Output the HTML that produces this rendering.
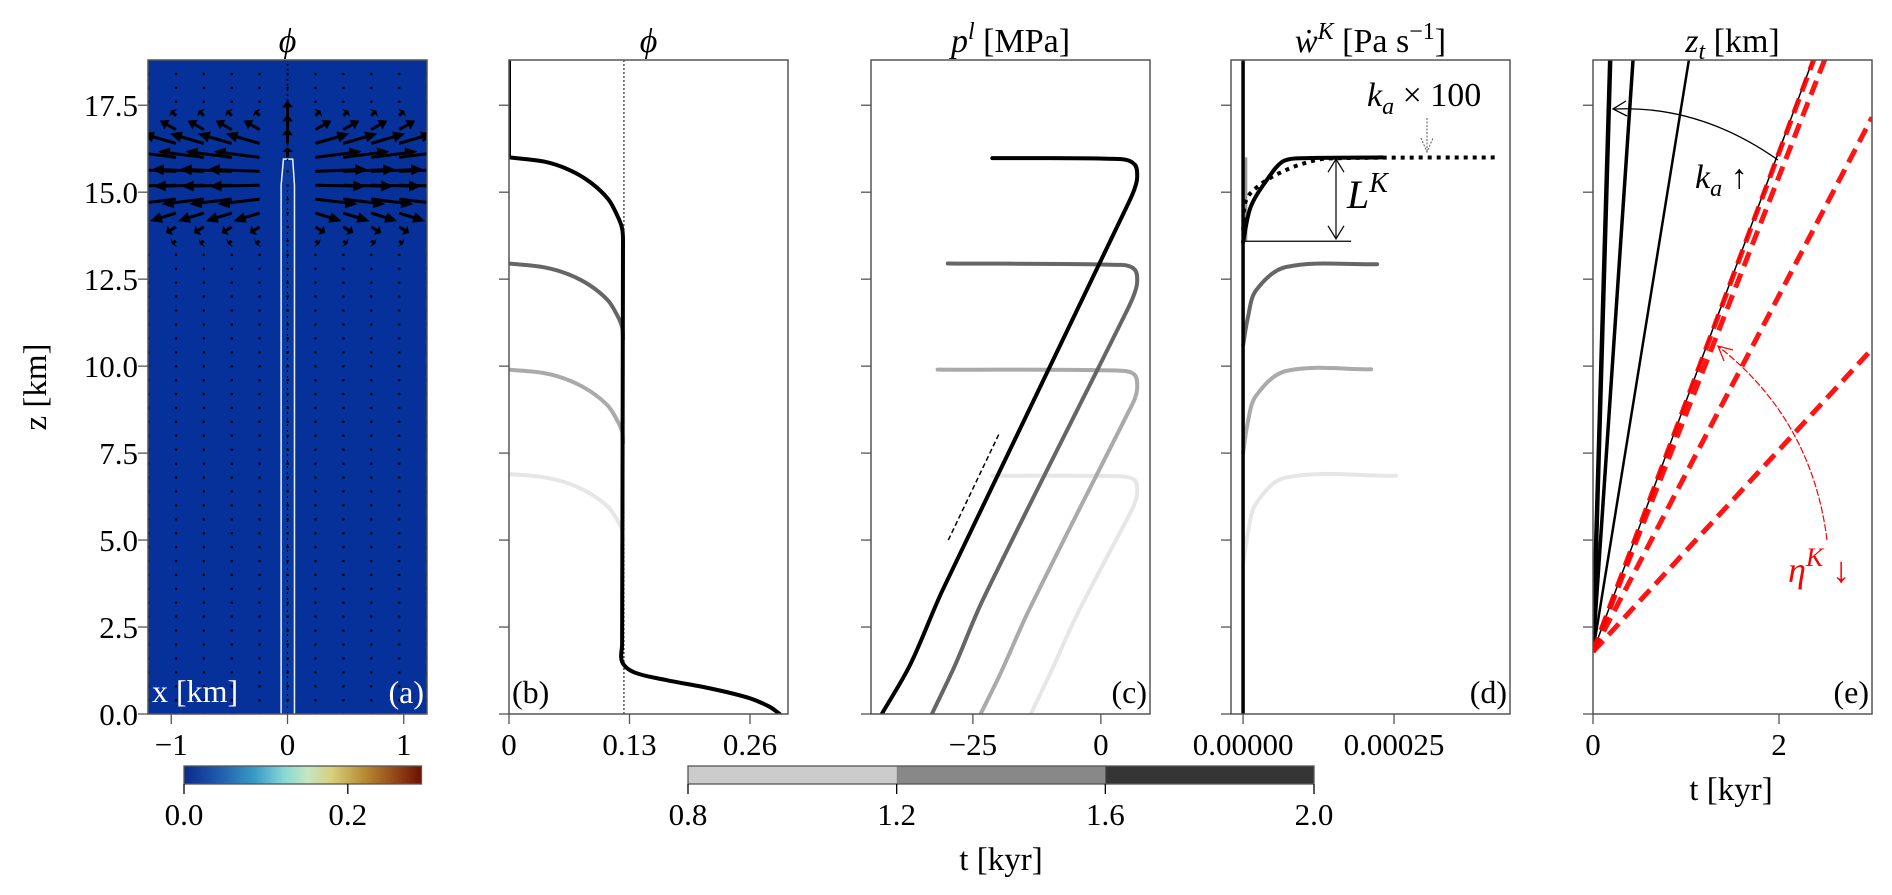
<!DOCTYPE html>
<html><head><meta charset="utf-8">
<style>
html,body{margin:0;padding:0;background:#fff;}
svg{display:block;font-family:"Liberation Serif",serif;}
</style></head>
<body>
<svg id="fig" width="1892" height="895" viewBox="0 0 1892 895" xmlns="http://www.w3.org/2000/svg">
<defs>
<linearGradient id="phicmap" x1="0" x2="1" y1="0" y2="0">
<stop offset="0" stop-color="#0b2a8c"/><stop offset="0.15" stop-color="#1f5cae"/>
<stop offset="0.3" stop-color="#3a9cc6"/><stop offset="0.42" stop-color="#86d8d6"/>
<stop offset="0.52" stop-color="#c4e6c0"/><stop offset="0.62" stop-color="#d8d07e"/>
<stop offset="0.76" stop-color="#b88a32"/><stop offset="0.9" stop-color="#904216"/>
<stop offset="1" stop-color="#6e1002"/></linearGradient>
<linearGradient id="crackgrad" x1="0" x2="0" y1="1" y2="0">
<stop offset="0" stop-color="#a05010"/><stop offset="0.04" stop-color="#d8c060"/>
<stop offset="0.1" stop-color="#7ad0d8"/><stop offset="1" stop-color="#4aa8d0"/></linearGradient>
</defs>
</svg>
<script>
// ---------- data ----------
const zTicks=[0,2.5,5,7.5,10,12.5,15,17.5];
const zTickLabels=['0.0','2.5','5.0','7.5','10.0','12.5','15.0','17.5'];
// panel (a) quiver
const quiverCols=[-1.2,-0.96,-0.72,-0.48,-0.24,0,0.24,0.48,0.72,0.96,1.2];
const arrowRowZ=[17.2,16.8,16.4,16.0,15.6,15.2,14.8,14.4,14.0,13.6];
const arrowRowU=[0.05,0.16,0.34,0.46,0.52,0.50,0.42,0.26,0.10,0.04];
const arrowRowV=[0.05,0.09,0.10,0.06,0.02,-0.01,-0.05,-0.08,-0.06,-0.03];
const arrowCenterV=[0.15,0.15,0.15,0.10,0,0,0,0,0,0];
// panel (b) porosity profiles
const phiBlackTop=[[0,18.8],[0,16]];
const phiBlack=[[0,16],[0.038,15.88],[0.065,15.64],[0.088,15.28],[0.107,14.8],[0.117,14.32],[0.122,13.96],[0.123,13.6],[0.122,2.0],[0.122,1.5],[0.135,1.2],[0.169,0.98],[0.22,0.72],[0.26,0.45],[0.281,0.21],[0.292,0]];
const phiDark=[[0,12.95],[0.038,12.84],[0.065,12.63],[0.088,12.31],[0.107,11.88],[0.117,11.45],[0.122,11.12],[0.123,10.8]];
const phiLight=[[0,9.9],[0.038,9.8],[0.065,9.59],[0.088,9.27],[0.107,8.85],[0.117,8.43],[0.122,8.12],[0.123,7.8]];
const phiLightest=[[0,6.9],[0.038,6.8],[0.065,6.62],[0.088,6.33],[0.107,5.95],[0.117,5.57],[0.122,5.29],[0.123,5.0]];
const phiRef=[0.124];
// panel (c) pressure profiles
const pBlack=[[-42.8,0],[-37.3,1.4],[-30.8,3.6],[5.1,14.6],[6.6,15.1],[7.1,15.45],[6.6,15.8],[4,15.95],[-21.2,15.98]];
const pDark=[[-33,0],[-28.5,1.4],[-23,3.3],[5.1,11.6],[6.6,12.1],[7.1,12.45],[6.6,12.78],[4,12.91],[-29.9,12.95]];
const pLight=[[-23.5,0],[-19.5,1.2],[-14,3.0],[5.1,8.6],[6.6,9.05],[7.1,9.4],[6.6,9.75],[4,9.87],[-31.9,9.9]];
const pLightest=[[-13.7,0],[-9.8,1.2],[-4.5,2.9],[5.1,5.6],[6.6,6.05],[7.1,6.4],[6.6,6.72],[4,6.83],[-21.2,6.85]];
const pSlope=[[-29.8,5.0],[-19.8,8.08]];
// panel (d) compaction rate
const wBlack=[[0,13.57],[0.0000132,14.6],[0.000043,15.44],[0.0000646,15.87],[0.0000877,15.97],[0.00023,16.0]];
const wDotted=[[0,13.9],[0.000005,14.77],[0.000031,15.25],[0.00007,15.63],[0.000109,15.87],[0.000142,15.97],[0.000424,16.0]];
const wDark=[[0,10.6],[0.000008,11.4],[0.0000215,12.18],[0.000071,12.85],[0.000222,12.93]];
const wLight=[[0,7.5],[0.000008,8.4],[0.0000215,9.15],[0.000071,9.86],[0.000212,9.91]];
const wLightest=[[0,4.3],[0.000008,5.2],[0.0000215,6.05],[0.000071,6.8],[0.000253,6.85]];
const wBase=[0,0.000179,13.59];
// panel (e) tip position
const tipZ0=[1.79];
const blackRates=[92,39.5,16.5,7.2];
const blackWidths=[4.5,3.5,2.5,1.5];
const redRates=[7.17,6.83,5.12,2.9];
// colorbars
const tBins=[0.8,1.2,1.6,2.0];
const tColors=['#cccccc','#888888','#353535'];
const tTickLabels=['0.8','1.2','1.6','2.0'];
const phiCbTicks=[0,0.2];
const phiCbLabels=['0.0','0.2'];

// ---------- geometry ----------
const svg=document.getElementById('fig');
const NS='http://www.w3.org/2000/svg';
const TOP=60,BOT=714,ZMAX=18.8;
const W=279;
function zpx(z){return BOT-(z/ZMAX)*(BOT-TOP);}
const panels={
 a:{x0:148,min:-1.2,max:1.2},
 b:{x0:509,min:0,max:0.301},
 c:{x0:871,min:-44.9,max:9.6},
 d:{x0:1231,min:-0.00002,max:0.000442},
 e:{x0:1593,min:0,max:3}
};
function xpx(p,v){const P=panels[p];return P.x0+(v-P.min)/(P.max-P.min)*W;}
function el(tag,attrs,parent){const e=document.createElementNS(NS,tag);for(const k in attrs)e.setAttribute(k,attrs[k]);(parent||svg).appendChild(e);return e;}
function txt(s,x,y,size,anchor,parent,extra){const t=el('text',Object.assign({x:x,y:y,'font-size':size,'text-anchor':anchor||'middle'},extra||{}),parent);t.innerHTML=s;return t;}
function norm(v){const L=Math.hypot(v[0],v[1])||1;return [v[0]/L,v[1]/L];}
function poly(p,pts,attrs,parent){
 const P=pts.map(q=>[xpx(p,q[0]),zpx(q[1])]);
 const n=P.length;
 const T=P.map((q,i)=>{const a=P[Math.max(0,i-1)],b=P[Math.min(n-1,i+1)];return norm([b[0]-a[0],b[1]-a[1]]);});
 let d='M'+P[0][0].toFixed(1)+' '+P[0][1].toFixed(1);
 for(let i=0;i<n-1;i++){
  const p1=P[i],p2=P[i+1];
  const L=Math.hypot(p2[0]-p1[0],p2[1]-p1[1])/3;
  const c1=[p1[0]+T[i][0]*L,p1[1]+T[i][1]*L];
  const c2=[p2[0]-T[i+1][0]*L,p2[1]-T[i+1][1]*L];
  d+=` C${c1[0].toFixed(1)} ${c1[1].toFixed(1)} ${c2[0].toFixed(1)} ${c2[1].toFixed(1)} ${p2[0].toFixed(1)} ${p2[1].toFixed(1)}`;
 }
 return el('path',Object.assign({d:d,fill:'none','stroke-linejoin':'round','stroke-linecap':'round'},attrs),parent);
}
function straight(p,pts,attrs,parent){
 const d=pts.map((q,i)=>(i?'L':'M')+xpx(p,q[0]).toFixed(1)+' '+zpx(q[1]).toFixed(1)).join(' ');
 return el('path',Object.assign({d:d,fill:'none'},attrs),parent);
}

const defs=svg.querySelector('defs');
for(const k in panels){const c=el('clipPath',{id:'clip-'+k},defs);el('rect',{x:panels[k].x0,y:TOP,width:W,height:BOT-TOP},c);}

// ---------- panel (a) ----------
const ga=el('g',{'clip-path':'url(#clip-a)'});


const bg=el('rect',{x:148,y:TOP,width:W,height:BOT-TOP,fill:'#06309a'},ga);


const cx0=xpx('a',0);
const crack=el('path',{d:`M${xpx('a',-0.055)} ${BOT} L${xpx('a',-0.055)} ${zpx(15.2)} L${xpx('a',-0.035)} ${zpx(15.95)} L${xpx('a',0.045)} ${zpx(15.95)} L${xpx('a',0.06)} ${zpx(15.2)} L${xpx('a',0.06)} ${BOT}`,fill:'#0a3aa0',stroke:'#e8f0ff','stroke-width':1.5},ga);


const core=el('line',{x1:cx0,x2:cx0,y1:BOT,y2:zpx(15.9),stroke:'url(#crackgrad)','stroke-width':4},ga);


el('line',{x1:cx0,x2:cx0,y1:zpx(15.9),y2:TOP,stroke:'#000','stroke-width':1.5,'stroke-dasharray':'2 3'},ga);
el('line',{x1:cx0,x2:cx0,y1:BOT,y2:zpx(15.2),stroke:'#000','stroke-width':1,'stroke-dasharray':'2 4'},ga);
function arrow(x,y,dx,dy,parent){
 const L=Math.hypot(dx,dy);
 if(L<3){el('rect',{x:x-1,y:y-1,width:2.2,height:2.2,fill:'#000'},parent);return;}
 const ux=dx/L,uy=dy/L,hl=Math.min(12,L*0.45),hw=5.5;
 const bx=x+dx-ux*hl,by=y+dy-uy*hl;
 el('line',{x1:x,y1:y,x2:bx,y2:by,stroke:'#000','stroke-width':3},parent);
 el('path',{d:`M${x+dx} ${y+dy} L${bx-uy*hw} ${by+ux*hw} L${bx+uy*hw} ${by-ux*hw} Z`,fill:'#000'},parent);
}
const gq=el('g',{},ga);


for(let k=0;k<=46;k++){
 const z=k*0.4;
 const ri=arrowRowZ.findIndex(v=>Math.abs(v-z)<0.15);
 quiverCols.forEach(x=>{
  const px=xpx('a',x),py=zpx(z);
  if(ri>=0){
   const s=Math.sign(x);
   if(s===0) arrow(px,py,0,-arrowCenterV[ri]*100,gq);
   else arrow(px,py,s*arrowRowU[ri]*100,-arrowRowV[ri]*100,gq);
  } else el('rect',{x:px-1,y:py-1,width:2.2,height:2.2,fill:'#000'},gq);
 });
}
const xl=txt('x [km]',152,702,32,'start',ga,{fill:'#fff'});



// ---------- panel (b) ----------
const gb=el('g',{'clip-path':'url(#clip-b)'});


const ref=el('line',{x1:xpx('b',phiRef[0]),x2:xpx('b',phiRef[0]),y1:TOP,y2:BOT,stroke:'#000','stroke-width':1,'stroke-dasharray':'2 2'},gb);


[[phiLightest,'#e6e6e6','t-0.8'],[phiLight,'#aaaaaa','t-1.2'],[phiDark,'#666666','t-1.6'],[phiBlack,'#000000','t-2.0']].forEach(s=>{
 const p=poly('b',s[0],{stroke:s[1],'stroke-width':4},gb);
 
 
});
const pbt=straight('b',phiBlackTop,{stroke:'#000','stroke-width':4},gb);



// ---------- panel (c) ----------
const gc=el('g',{'clip-path':'url(#clip-c)'});


[[pLightest,'#e6e6e6','t-0.8'],[pLight,'#aaaaaa','t-1.2'],[pDark,'#666666','t-1.6'],[pBlack,'#000000','t-2.0']].forEach(s=>{
 const p=poly('c',s[0],{stroke:s[1],'stroke-width':4},gc);
 
 
});
const sl=straight('c',pSlope,{stroke:'#000','stroke-width':1.5,'stroke-dasharray':'5 3'},gc);



// ---------- panel (d) ----------
const gd=el('g',{'clip-path':'url(#clip-d)'});


el('line',{x1:xpx('d',0)+3,x2:xpx('d',0)+3,y1:zpx(13.6),y2:zpx(16),stroke:'#999','stroke-width':2.5},gd);
[[wLightest,'#e6e6e6','t-0.8'],[wLight,'#aaaaaa','t-1.2'],[wDark,'#666666','t-1.6']].forEach(s=>{
 const p=poly('d',s[0],{stroke:s[1],'stroke-width':4},gd);
 
 
});
const vert=el('line',{x1:xpx('d',0),x2:xpx('d',0),y1:TOP,y2:BOT,stroke:'#000','stroke-width':3.5},gd);


const wb=poly('d',wBlack,{stroke:'#000','stroke-width':4},gd);


const wdt=poly('d',wDotted,{stroke:'#000','stroke-width':4,'stroke-dasharray':'4 5','stroke-linecap':'butt'},gd);


const base=el('line',{x1:xpx('d',wBase[0]),x2:xpx('d',wBase[1]),y1:zpx(wBase[2]),y2:zpx(wBase[2]),stroke:'#000','stroke-width':1.2},gd);


const ax=1336,ay1=zpx(15.95),ay2=zpx(13.66);
el('line',{x1:ax,x2:ax,y1:ay1,y2:ay2,stroke:'#000','stroke-width':1.2},gd);
el('path',{d:`M${ax-8} ${ay1+13} L${ax} ${ay1} L${ax+8} ${ay1+13} M${ax-8} ${ay2-13} L${ax} ${ay2} L${ax+8} ${ay2-13}`,fill:'none',stroke:'#000','stroke-width':1.2},gd);
const lk=txt('<tspan font-style="italic">L</tspan><tspan dy="-16" font-size="28" font-style="italic">K</tspan>',1347,208,40,'start',gd);


const ka=txt('<tspan font-style="italic">k</tspan><tspan dy="8" font-size="24" font-style="italic">a</tspan><tspan dy="-8"> × 100</tspan>',1367,106,34,'start',gd);


el('path',{d:'M1427 118 L1427 152 M1421 138 L1427 152 L1433 138',fill:'none',stroke:'#555','stroke-width':1,'stroke-dasharray':'2 1.5'},gd);

// ---------- panel (e) ----------
const ge=el('g',{'clip-path':'url(#clip-e)'});


function tipLine(rate){const tEnd=Math.min(3,(ZMAX+0.5-tipZ0[0])/rate);return [[0,tipZ0[0]],[tEnd,tipZ0[0]+rate*tEnd]];}
blackRates.forEach((r,i)=>{
 const p=straight('e',tipLine(r),{stroke:'#000','stroke-width':blackWidths[i]},ge);
 
 
});
redRates.forEach((r,i)=>{
 const p=straight('e',tipLine(r),{stroke:'#ff0000','stroke-width':5,'stroke-dasharray':'15 8','opacity':0.92},ge);
 
 
});
const ann=el('path',{d:'M1778 160 Q1700 105 1614 109',fill:'none',stroke:'#000','stroke-width':1.3},ge);


el('path',{d:'M1626 101 L1613 109 L1627 116',fill:'none',stroke:'#000','stroke-width':1.3},ge);
const kaU=txt('<tspan font-style="italic">k</tspan><tspan dy="8" font-size="24" font-style="italic">a</tspan><tspan dy="-8"> ↑</tspan>',1695,188,34,'start',ge);


const rann=el('path',{d:'M1827 540 Q1812 420 1719 347',fill:'none',stroke:'#ff0000','stroke-width':1.2,'stroke-dasharray':'7 2'},ge);


el('path',{d:'M1724 361 L1718 346 L1733 350',fill:'none',stroke:'#ff0000','stroke-width':1.2},ge);
const etaL=txt('<tspan font-style="italic">η</tspan><tspan dy="-16" font-size="26" font-style="italic">K</tspan><tspan dy="16"> ↓</tspan>',1788,582,36,'start',ge,{fill:'#ff0000'});



// ---------- axes frames, ticks ----------
const xTicks={a:[[-1,'−1'],[0,'0'],[1,'1']],b:[[0,'0'],[0.13,'0.13'],[0.26,'0.26']],c:[[-25,'−25'],[0,'0']],d:[[0,'0.00000'],[0.00025,'0.00025']],e:[[0,'0'],[2,'2']]};
const letters={a:['(a)','#fff'],b:['(b)','#000'],c:['(c)','#000'],d:['(d)','#000'],e:['(e)','#000']};
for(const k in panels){
 const P=panels[k];
 const g=el('g',{});
 
 
 el('rect',{x:P.x0,y:TOP,width:W,height:BOT-TOP,fill:'none',stroke:'#555','stroke-width':1.5},g);
 zTicks.forEach((z,i)=>{
  el('line',{x1:P.x0-10,x2:P.x0,y1:zpx(z),y2:zpx(z),stroke:'#555','stroke-width':1.3},g);
  if(k==='a'){const t=txt(zTickLabels[i],138,zpx(z)+11,31,'end',g);
   
   }
 });
 xTicks[k].forEach(tk=>{
  const x=xpx(k,tk[0]);
  el('line',{x1:x,x2:x,y1:BOT,y2:BOT+10,stroke:'#555','stroke-width':1.3},g);
  const t=txt(tk[1],x,755,31,'middle',g);
  
  
 });
 const anchor=k==='b'?'start':'end';
 const lx=k==='b'?P.x0+3:P.x0+W-3;
 const lt=txt(letters[k][0],lx,703,32,anchor,g,{fill:letters[k][1]});
 
 
}
const titles=[
 ['a','<tspan font-style="italic">ϕ</tspan>'],
 ['b','<tspan font-style="italic">ϕ</tspan>'],
 ['c','<tspan font-style="italic">p</tspan><tspan dy="-13" font-size="24" font-style="italic">l</tspan><tspan dy="13"> [MPa]</tspan>'],
 ['d','<tspan font-style="italic">ẇ</tspan><tspan dy="-13" font-size="24" font-style="italic">K</tspan><tspan dy="13"> [Pa s</tspan><tspan dy="-13" font-size="24">−1</tspan><tspan dy="13">]</tspan>'],
 ['e','<tspan font-style="italic">z</tspan><tspan dy="7" font-size="24" font-style="italic">t</tspan><tspan dy="-7"> [km]</tspan>']
];
titles.forEach(t=>{
 const e=txt(t[1],panels[t[0]].x0+W/2,52,34,'middle');
 
 
});
const zl=txt('z [km]',0,0,33,'middle',null,{transform:'translate(46 387) rotate(-90)'});


const tl=txt('t [kyr]',1731,800,33,'middle');



// ---------- colorbars ----------
const cba=el('g',{});


const CB0=184,CB1=421.5,CBMAX=0.29;
el('rect',{x:CB0,y:766,width:CB1-CB0,height:18,fill:'url(#phicmap)',stroke:'#555','stroke-width':1.3},cba);
phiCbTicks.forEach((v,i)=>{
 const x=CB0+v/CBMAX*(CB1-CB0);
 el('line',{x1:x,x2:x,y1:784,y2:794,stroke:'#000','stroke-width':1.3},cba);
 const t=txt(phiCbLabels[i],x,825,31,'middle',cba);
 
 
});
const cbt=el('g',{});


const T0=688,T1=1314;
function tpx(t){return T0+(t-tBins[0])/(tBins[tBins.length-1]-tBins[0])*(T1-T0);}
tColors.forEach((c,i)=>{
 const r=el('rect',{x:tpx(tBins[i]),y:766,width:tpx(tBins[i+1])-tpx(tBins[i]),height:18,fill:c},cbt);
 
 
});
el('rect',{x:T0,y:766,width:T1-T0,height:18,fill:'none',stroke:'#555','stroke-width':1.3},cbt);
tBins.forEach((t,i)=>{
 const x=tpx(t);
 el('line',{x1:x,x2:x,y1:784,y2:794,stroke:'#000','stroke-width':1.3},cbt);
 const l=txt(tTickLabels[i],x,825,31,'middle',cbt);
 
 
});
const ctl=txt('t [kyr]',1001,870,33,'middle',cbt);


</script>
</body></html>
